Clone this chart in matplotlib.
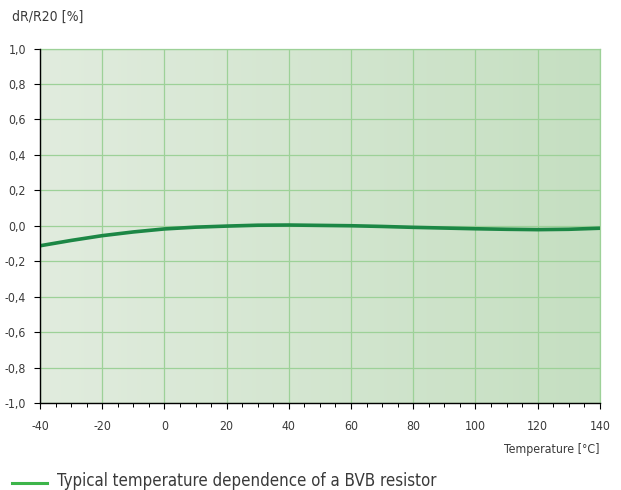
#!/usr/bin/env python3
"""
Typical temperature dependence of a BVB resistor: dR/R20 vs temperature
"""

import numpy as np
import matplotlib

matplotlib.use("Agg")
import matplotlib.pyplot as plt
from matplotlib.ticker import MultipleLocator, FuncFormatter

# values
temp = [-40, -30, -20, -10, 0, 10, 20, 30, 40, 50, 60, 70, 80, 90, 100, 110, 120, 130, 140]
drr = [-0.113, -0.083, -0.056, -0.035, -0.018, -0.008, -0.002, 0.003, 0.004, 0.002,
       0.0, -0.004, -0.009, -0.013, -0.017, -0.020, -0.022, -0.020, -0.014]

xticks = [-40, -20, 0, 20, 40, 60, 80, 100, 120, 140]
yticks = [-1.0, -0.8, -0.6, -0.4, -0.2, 0.0, 0.2, 0.4, 0.6, 0.8, 1.0]

plt.rcParams["font.family"] = ["DejaVu Sans"]
plt.rcParams["font.stretch"] = "condensed"
plt.rcParams["axes.unicode_minus"] = False

TXT = "#3a3a3a"
GRID = "#9dd198"


def comma(v, pos):
    return "{:.1f}".format(v).replace(".", ",")


def main():
    fig = plt.figure(figsize=(6.21, 4.90), dpi=100)
    ax = fig.add_axes([0.0644, 0.1776, 0.9016, 0.7234])

    # horizontal gradient background
    grad = np.linspace(0, 1, 256).reshape(1, -1)
    cmap = matplotlib.colors.LinearSegmentedColormap.from_list("bg", ["#e1ecde", "#c5dfc1"])
    ax.imshow(grad, extent=[-40, 140, -1, 1], aspect="auto", cmap=cmap, zorder=0)

    ax.set_xlim(-40, 140)
    ax.set_ylim(-1, 1)
    ax.set_xticks(xticks)
    ax.set_yticks(yticks)
    ax.xaxis.set_minor_locator(MultipleLocator(5))
    ax.yaxis.set_major_formatter(FuncFormatter(comma))
    ax.grid(True, which="major", color=GRID, lw=0.9, zorder=1)

    ax.plot(temp, drr, color="#1c8745", lw=2.6, solid_capstyle="round", zorder=3)

    for s in ("top", "right"):
        ax.spines[s].set_color(GRID)
        ax.spines[s].set_linewidth(0.9)
    for s in ("left", "bottom"):
        ax.spines[s].set_color("black")
        ax.spines[s].set_linewidth(1.0)
        ax.spines[s].set_zorder(4)

    ax.tick_params(which="major", length=4, width=0.8, color="black",
                   labelsize=8.8, labelcolor=TXT, pad=6)
    ax.tick_params(which="minor", length=3, width=0.7, color="black")
    ax.tick_params(axis="x", pad=8)

    fig.text(12 / 621, 1 - 17 / 490, "dR/R20 [%]", fontsize=10, color=TXT, va="center")
    fig.text(600 / 621, 1 - 449 / 490, "Temperature [°C]", fontsize=8.8, color=TXT,
             va="center", ha="right")

    # legend line + text at the bottom
    fig.add_artist(matplotlib.lines.Line2D([12 / 621, 47 / 621], [1 - 483 / 490] * 2,
                                           color="#3db54a", lw=2.2, transform=fig.transFigure))
    fig.text(57 / 621, 1 - 481 / 490, "Typical temperature dependence of a BVB resistor",
             fontsize=12.1, color=TXT, va="center")

    fig.savefig("out.png", dpi=100)


if __name__ == "__main__":
    main()
